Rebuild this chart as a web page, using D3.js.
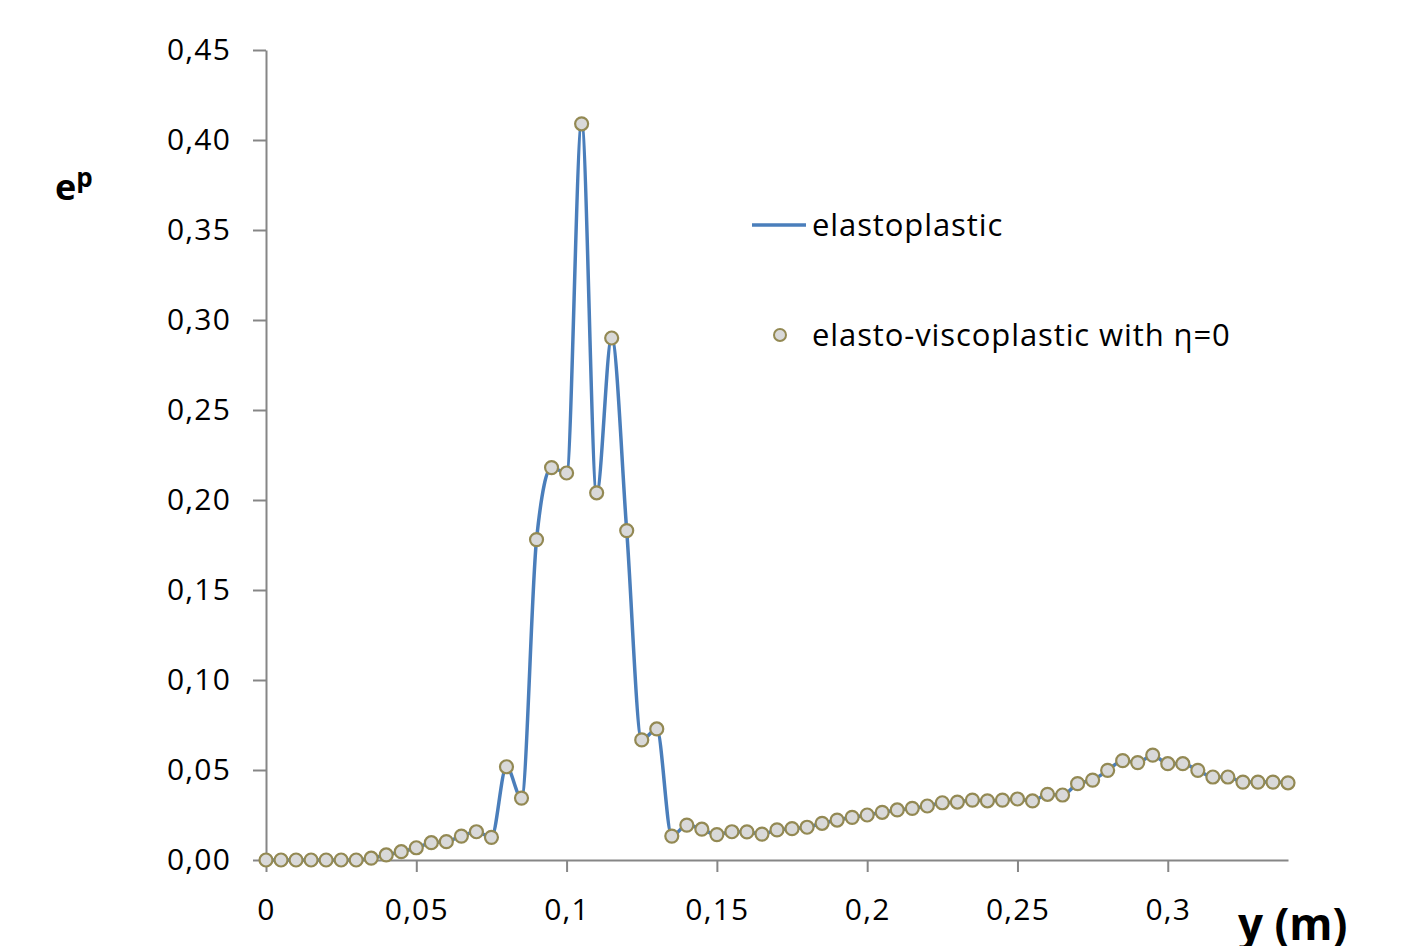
<!DOCTYPE html>
<html lang="en">
<head>
<meta charset="utf-8">
<title>ep vs y</title>
<script src="https://cdn.jsdelivr.net/npm/d3@7"></script>
<style>
  body { margin: 0; background: #fff; }
  svg text { font-family: "Open Sans", "Noto Sans", sans-serif; fill: #000; }
  .axis path, .axis line { stroke: #868686; stroke-width: 2; fill: none; }
  .axis text { font-size: 30px; letter-spacing: 1.2px; }
</style>
</head>
<body>
<div id="chart"></div>
<script>
// y position (m), step 0.005
var yPos = [0, 0.005, 0.01, 0.015, 0.02, 0.025, 0.03, 0.035, 0.04, 0.045,
  0.05, 0.055, 0.06, 0.065, 0.07, 0.075, 0.08, 0.085, 0.09, 0.095,
  0.1, 0.105, 0.11, 0.115, 0.12, 0.125, 0.13, 0.135, 0.14, 0.145,
  0.15, 0.155, 0.16, 0.165, 0.17, 0.175, 0.18, 0.185, 0.19, 0.195,
  0.2, 0.205, 0.21, 0.215, 0.22, 0.225, 0.23, 0.235, 0.24, 0.245,
  0.25, 0.255, 0.26, 0.265, 0.27, 0.275, 0.28, 0.285, 0.29, 0.295,
  0.3, 0.305, 0.31, 0.315, 0.32, 0.325, 0.33, 0.335, 0.34];

// elastoplastic (line)
var elastoplastic = [0, 0, 0, 0, 0, 0, 0, 0.001, 0.0028, 0.0046,
  0.0068, 0.0096, 0.0102, 0.0133, 0.0157, 0.0126, 0.0518, 0.0344, 0.178, 0.218,
  0.215, 0.409, 0.204, 0.290, 0.183, 0.0667, 0.0728, 0.0133, 0.0194, 0.0171,
  0.0141, 0.0157, 0.0156, 0.0144, 0.0167, 0.0174, 0.0182, 0.0204, 0.0222, 0.0237,
  0.025, 0.0265, 0.0278, 0.0287, 0.030, 0.0318, 0.0322, 0.0333, 0.0329, 0.0333,
  0.0339, 0.0328, 0.0365, 0.0361, 0.0424, 0.0444, 0.0498, 0.0552, 0.0541, 0.0583,
  0.0535, 0.0535, 0.0498, 0.0461, 0.0461, 0.0433, 0.0433, 0.0433, 0.0429];

// elasto-viscoplastic with eta=0 (markers)
var viscoplastic = [0, 0, 0, 0, 0, 0, 0, 0.001, 0.0028, 0.0046,
  0.0068, 0.0096, 0.0102, 0.0133, 0.0157, 0.0126, 0.0518, 0.0344, 0.178, 0.218,
  0.215, 0.409, 0.204, 0.290, 0.183, 0.0667, 0.0728, 0.0133, 0.0194, 0.0171,
  0.0141, 0.0157, 0.0156, 0.0144, 0.0167, 0.0174, 0.0182, 0.0204, 0.0222, 0.0237,
  0.025, 0.0265, 0.0278, 0.0287, 0.030, 0.0318, 0.0322, 0.0333, 0.0329, 0.0333,
  0.0339, 0.0328, 0.0365, 0.0361, 0.0424, 0.0444, 0.0498, 0.0552, 0.0541, 0.0583,
  0.0535, 0.0535, 0.0498, 0.0461, 0.0461, 0.0433, 0.0433, 0.0433, 0.0429];

var xTicks = [0, 0.05, 0.1, 0.15, 0.2, 0.25, 0.3];
var xTickLabels = ["0", "0,05", "0,1", "0,15", "0,2", "0,25", "0,3"];
var yTicks = [0, 0.05, 0.1, 0.15, 0.2, 0.25, 0.3, 0.35, 0.4, 0.45];
var yTickLabels = ["0,00", "0,05", "0,10", "0,15", "0,20", "0,25", "0,30", "0,35", "0,40", "0,45"];
var seriesNames = ["elastoplastic", "elasto-viscoplastic with \u03b7=0"];

var width = 1402, height = 946;

var svg = d3.select("#chart").append("svg")
    .attr("width", width)
    .attr("height", height);

var x = d3.scaleLinear().domain([0, 0.34]).range([266, 1288]);
var y = d3.scaleLinear().domain([0, 0.45]).range([860, 50]);

var xAxis = d3.axisBottom(x)
    .tickValues(xTicks)
    .tickSize(12)
    .tickSizeOuter(0)
    .tickPadding(27)
    .tickFormat(function(d, i) { return xTickLabels[i]; });

var yAxis = d3.axisLeft(y)
    .tickValues(yTicks)
    .tickSize(13)
    .tickSizeOuter(0)
    .tickPadding(22)
    .tickFormat(function(d, i) { return yTickLabels[i]; });

svg.append("g")
    .attr("class", "x axis")
    .attr("transform", "translate(0,860)")
    .call(xAxis);

svg.append("g")
    .attr("class", "y axis")
    .attr("transform", "translate(266,0)")
    .call(yAxis);

svg.selectAll(".axis text")
    .attr("font-family", null)
    .attr("font-size", null)
    .attr("fill", "#000");

// smoothed line, no overshoot between points
var line = d3.line()
    .x(function(d, i) { return x(yPos[i]); })
    .y(function(d) { return y(d); })
    .curve(d3.curveMonotoneX);

svg.append("path")
    .datum(elastoplastic)
    .attr("fill", "none")
    .attr("stroke", "#4a7ebb")
    .attr("stroke-width", 3.5)
    .attr("d", line);

// markers
svg.selectAll("circle.pt")
    .data(viscoplastic)
    .enter()
    .append("circle")
    .attr("class", "pt")
    .attr("cx", function(d, i) { return x(yPos[i]); })
    .attr("cy", function(d) { return y(d); })
    .attr("r", 6.5)
    .attr("fill", "#d9d9d9")
    .attr("stroke", "#938953")
    .attr("stroke-width", 2.2);

// legend
svg.append("line")
    .attr("x1", 752).attr("x2", 806)
    .attr("y1", 225).attr("y2", 225)
    .attr("stroke", "#4a7ebb")
    .attr("stroke-width", 3.5);
svg.append("text")
    .attr("x", 812).attr("y", 236)
    .attr("font-size", 31)
    .attr("letter-spacing", 0.9)
    .text(seriesNames[0]);

svg.append("circle")
    .attr("cx", 780).attr("cy", 335)
    .attr("r", 6)
    .attr("fill", "#d9d9d9")
    .attr("stroke", "#938953")
    .attr("stroke-width", 2);
svg.append("text")
    .attr("x", 812).attr("y", 346)
    .attr("font-size", 31)
    .attr("letter-spacing", 0.9)
    .text(seriesNames[1]);

// axis titles
var yt = svg.append("text")
    .attr("x", 55).attr("y", 200)
    .attr("font-size", 36)
    .attr("font-weight", "bold");
yt.append("tspan").text("e");
yt.append("tspan").attr("font-size", 26).attr("dy", -13).text("p");

svg.append("text")
    .attr("x", 1238).attr("y", 940)
    .attr("font-size", 44)
    .attr("font-weight", "bold")
    .text("y (m)");
</script>
</body>
</html>
